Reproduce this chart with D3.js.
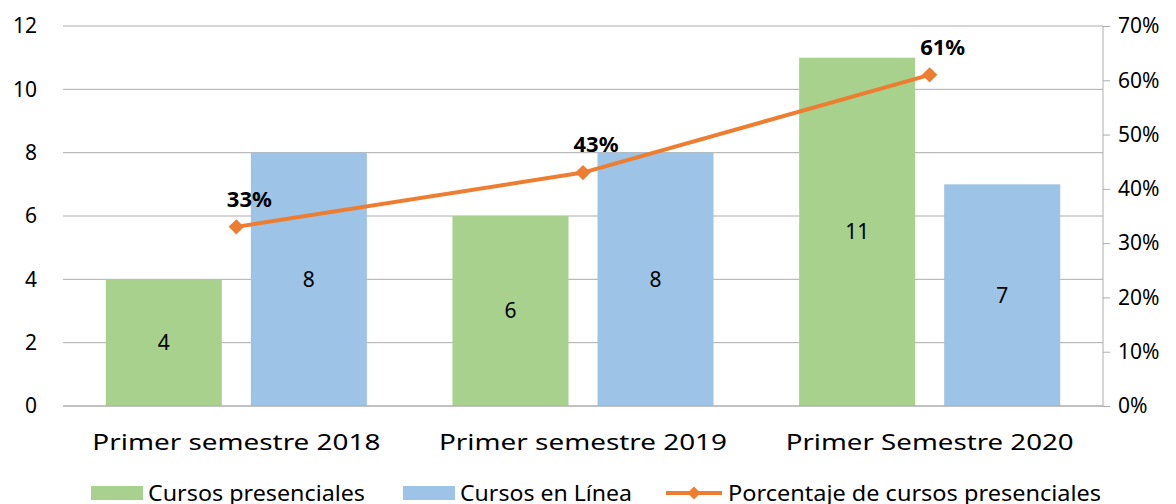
<!DOCTYPE html>
<html>
<head>
<meta charset="utf-8">
<script src="https://cdn.jsdelivr.net/npm/d3@7"></script>
<style>
  body { margin: 0; background: #fff; }
  svg text { font-family: "Noto Sans", "Open Sans", sans-serif; fill: #000; }
</style>
</head>
<body>
<div id="chart"></div>
<script>
const categories = ["Primer semestre 2018", "Primer semestre 2019", "Primer Semestre 2020"];
const presenciales = [4, 6, 11];
const enLinea = [8, 8, 7];
const porcentaje = [0.33, 0.43, 0.61];
const leftTicks = [0, 2, 4, 6, 8, 10, 12];
const rightTicks = [0, 0.1, 0.2, 0.3, 0.4, 0.5, 0.6, 0.7];
const seriesNames = ["Cursos presenciales", "Cursos en Línea", "Porcentaje de cursos presenciales"];

const width = 1176, height = 504;
const plot = { left: 63, right: 1103, top: 26, bottom: 406 };

const green = "#A9D18E", blue = "#9DC3E6", orange = "#ED7D31", grid = "#ADADAD";

let svg = d3.select("#chart").append("svg")
    .attr("width", width)
    .attr("height", height);

let x0 = d3.scaleBand().domain(categories).range([plot.left, plot.right]);
let x1 = d3.scaleBand().domain([0, 1])
    .range([42.8, x0.bandwidth() - 42.8])
    .paddingInner(0.2);
let y = d3.scaleLinear().domain([0, 12]).range([plot.bottom, plot.top]);
let y2 = d3.scaleLinear().domain([0, 0.7]).range([plot.bottom, plot.top]);

// gridlines
svg.append("g").selectAll("line")
    .data(leftTicks)
    .enter().append("line")
    .attr("x1", plot.left).attr("x2", plot.right)
    .attr("y1", d => y(d)).attr("y2", d => y(d))
    .attr("stroke", grid).attr("stroke-width", 1);

// left tick labels
svg.append("g").selectAll("text")
    .data(leftTicks)
    .enter().append("text")
    .attr("x", 37)
    .attr("y", d => y(d))
    .attr("dy", "0.35em")
    .attr("text-anchor", "end")
    .attr("font-size", "21px")
    .text(d => d);

// right axis
let yAxis2 = d3.axisRight(y2)
    .tickValues(rightTicks)
    .tickFormat(d3.format(".0%"))
    .tickSize(7)
    .tickPadding(8);
let ax = svg.append("g")
    .attr("transform", "translate(" + plot.right + ",0)")
    .call(yAxis2);
ax.select(".domain").attr("stroke", grid).attr("d", "M0," + plot.top + "V" + plot.bottom);
ax.selectAll(".tick line").attr("stroke", grid);
ax.selectAll(".tick text").attr("font-size", "21px").attr("fill", "#000")
    .style("font-family", "'Noto Sans', sans-serif");

// bars
let groups = svg.append("g").selectAll("g")
    .data(categories)
    .enter().append("g")
    .attr("transform", d => "translate(" + x0(d) + ",0)");

groups.append("rect")
    .attr("x", x1(0))
    .attr("y", (d, i) => y(presenciales[i]))
    .attr("width", x1.bandwidth())
    .attr("height", (d, i) => y(0) - y(presenciales[i]))
    .attr("fill", green);

groups.append("rect")
    .attr("x", x1(1))
    .attr("y", (d, i) => y(enLinea[i]))
    .attr("width", x1.bandwidth())
    .attr("height", (d, i) => y(0) - y(enLinea[i]))
    .attr("fill", blue);

// bar value labels
groups.append("text")
    .attr("x", x1(0) + x1.bandwidth() / 2)
    .attr("y", (d, i) => y(presenciales[i] / 2))
    .attr("dy", "0.35em")
    .attr("text-anchor", "middle")
    .attr("font-size", "21px")
    .text((d, i) => presenciales[i]);

groups.append("text")
    .attr("x", x1(1) + x1.bandwidth() / 2)
    .attr("y", (d, i) => y(enLinea[i] / 2))
    .attr("dy", "0.35em")
    .attr("text-anchor", "middle")
    .attr("font-size", "21px")
    .text((d, i) => enLinea[i]);

// baseline
svg.append("line")
    .attr("x1", plot.left).attr("x2", plot.right)
    .attr("y1", plot.bottom).attr("y2", plot.bottom)
    .attr("stroke", grid);

// line series
let cx = (d, i) => x0(categories[i]) + x0.bandwidth() / 2;
let line = d3.line()
    .x((d, i) => cx(d, i))
    .y(d => y2(d));

svg.append("path")
    .datum(porcentaje)
    .attr("d", line)
    .attr("fill", "none")
    .attr("stroke", orange)
    .attr("stroke-width", 4)
    .attr("stroke-linejoin", "round");

svg.append("g").selectAll("path")
    .data(porcentaje)
    .enter().append("path")
    .attr("d", d3.symbol().type(d3.symbolSquare2).size(150))
    .attr("transform", (d, i) => "translate(" + cx(d, i) + "," + y2(d) + ") rotate(45)")
    .attr("fill", orange);

svg.append("g").selectAll("text")
    .data(porcentaje)
    .enter().append("text")
    .attr("x", (d, i) => cx(d, i) + 13)
    .attr("y", d => y2(d) - 28)
    .attr("dy", "0.35em")
    .attr("text-anchor", "middle")
    .attr("font-size", "22px")
    .attr("font-weight", "bold")
    .text(d => d3.format(".0%")(d));

// category labels
svg.append("g").selectAll("text")
    .data(categories)
    .enter().append("text")
    .attr("x", d => x0(d) + x0.bandwidth() / 2)
    .attr("y", 442)
    .attr("dy", "0.35em")
    .attr("text-anchor", "middle")
    .attr("font-size", "22px")
    .attr("textLength", 288)
    .attr("lengthAdjust", "spacingAndGlyphs")
    .text(d => d);

// legend (cut at the bottom edge like the original)
let legend = svg.append("g");
let legX = [91, 403, 666];
let legTextLen = [217, 172, 373];
legend.append("rect").attr("x", legX[0]).attr("y", 486).attr("width", 52).attr("height", 14).attr("fill", green);
legend.append("rect").attr("x", legX[1]).attr("y", 486).attr("width", 52).attr("height", 14).attr("fill", blue);
legend.append("line").attr("x1", legX[2]).attr("x2", legX[2] + 56)
    .attr("y1", 493).attr("y2", 493)
    .attr("stroke", orange).attr("stroke-width", 4);
legend.append("path")
    .attr("d", d3.symbol().type(d3.symbolSquare2).size(110))
    .attr("transform", "translate(" + (legX[2] + 28) + ",493) rotate(45)")
    .attr("fill", orange);
legend.selectAll("text")
    .data(seriesNames)
    .enter().append("text")
    .attr("x", (d, i) => legX[i] + (i == 2 ? 62 : 57))
    .attr("y", 494)
    .attr("dy", "0.35em")
    .attr("font-size", "21px")
    .attr("textLength", (d, i) => legTextLen[i])
    .attr("lengthAdjust", "spacingAndGlyphs")
    .text(d => d);
</script>
</body>
</html>
